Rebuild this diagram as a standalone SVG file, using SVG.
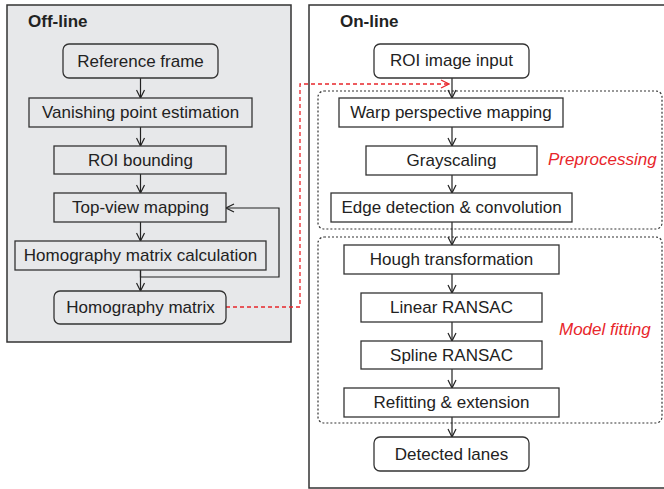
<svg xmlns="http://www.w3.org/2000/svg" width="664" height="489" viewBox="0 0 664 489">
<defs>
<style>
.t{font-family:"Liberation Sans",Arial,sans-serif;font-size:17px;fill:#222;text-anchor:middle}
.h{font-family:"Liberation Sans",Arial,sans-serif;font-size:17px;font-weight:bold;fill:#222}
.r{font-family:"Liberation Sans",Arial,sans-serif;font-size:17px;font-style:italic;fill:#e8262b}
.b{fill:#fff;stroke:#333;stroke-width:1.3}
.bg{fill:#e7e8ea;stroke:#333;stroke-width:1.3}
.c{fill:none;stroke:#222;stroke-width:1.2;marker-end:url(#ah)}
.d{fill:none;stroke:#333;stroke-width:1.2;stroke-dasharray:2 2}
</style>
<marker id="ah" viewBox="0 0 10 10" refX="9" refY="5" markerWidth="10" markerHeight="10" markerUnits="userSpaceOnUse" orient="auto">
<polyline points="1,1 9,5 1,9" fill="none" stroke="#222" stroke-width="1.2"/>
</marker>
<marker id="ar" viewBox="0 0 10 10" refX="9" refY="5" markerWidth="10" markerHeight="10" markerUnits="userSpaceOnUse" orient="auto">
<polyline points="1,1 9,5 1,9" fill="none" stroke="#e8262b" stroke-width="1.2"/>
</marker>
</defs>
<g id="offline-panel">
<rect x="7" y="5" width="284" height="337" fill="#e7e8ea" stroke="#333" stroke-width="1.5"/>
<text class="h" x="28" y="27">Off-line</text>
</g>
<g id="online-panel">
<rect x="309" y="5" width="370" height="483" fill="#fff" stroke="#333" stroke-width="1.5"/>
<text class="h" x="340" y="27">On-line</text>
</g>
<g id="preprocessing-group">
<rect class="d" x="318" y="91" width="344" height="138" rx="6"/>
<text class="r" x="548" y="165">Preprocessing</text>
</g>
<g id="modelfitting-group">
<rect class="d" x="318" y="237" width="344" height="186" rx="6"/>
<text class="r" x="559" y="335">Model fitting</text>
</g>
<g id="connectors">
<path class="c" d="M140.5 78V98"/>
<path class="c" d="M140.5 127V146"/>
<path class="c" d="M140.5 174V193"/>
<path class="c" d="M140.5 222V241"/>
<path class="c" d="M140.5 270V291"/>
<path class="c" d="M140.5 270V277H279V208H226"/>
<path d="M226 307H300V84H449" fill="none" stroke="#e8262b" stroke-width="1.3" stroke-dasharray="4 3" marker-end="url(#ar)"/>
<path class="c" d="M452 78V98"/>
<path class="c" d="M452 127V146"/>
<path class="c" d="M452 175V193"/>
<path class="c" d="M452 222V245"/>
<path class="c" d="M452 274V293"/>
<path class="c" d="M452 322V341"/>
<path class="c" d="M452 369V388"/>
<path class="c" d="M452 417V437"/>
</g>
<g id="reference-frame"><rect class="bg" x="63" y="44" width="155" height="34" rx="6"/><text class="t" x="140.5" y="67">Reference frame</text></g>
<g id="vanishing-point"><rect class="bg" x="29" y="98" width="223" height="29"/><text class="t" x="140.5" y="118">Vanishing point estimation</text></g>
<g id="roi-bounding"><rect class="bg" x="54" y="146" width="172" height="28"/><text class="t" x="140.5" y="166">ROI bounding</text></g>
<g id="top-view"><rect class="bg" x="54" y="193" width="172" height="29"/><text class="t" x="140.5" y="213">Top-view mapping</text></g>
<g id="homography-calc"><rect class="bg" x="15" y="241" width="251" height="29"/><text class="t" x="140.5" y="261">Homography matrix calculation</text></g>
<g id="homography-matrix"><rect class="bg" x="54" y="291" width="172" height="33" rx="6"/><text class="t" x="140.5" y="313">Homography matrix</text></g>
<g id="roi-input"><rect class="b" x="374" y="44" width="155" height="34" rx="6"/><text class="t" x="451.5" y="66">ROI image input</text></g>
<g id="warp"><rect class="b" x="339" y="98" width="224" height="29"/><text class="t" x="451" y="118">Warp perspective mapping</text></g>
<g id="grayscaling"><rect class="b" x="366" y="146" width="171" height="29"/><text class="t" x="451.5" y="166">Grayscaling</text></g>
<g id="edge"><rect class="b" x="331" y="193" width="241" height="29"/><text class="t" x="451.5" y="213">Edge detection &amp; convolution</text></g>
<g id="hough"><rect class="b" x="344" y="245" width="215" height="29"/><text class="t" x="451.5" y="265">Hough transformation</text></g>
<g id="linear-ransac"><rect class="b" x="361" y="293" width="181" height="29"/><text class="t" x="451.5" y="313">Linear RANSAC</text></g>
<g id="spline-ransac"><rect class="b" x="361" y="341" width="181" height="28"/><text class="t" x="451.5" y="361">Spline RANSAC</text></g>
<g id="refitting"><rect class="b" x="344" y="388" width="215" height="29"/><text class="t" x="451.5" y="408">Refitting &amp; extension</text></g>
<g id="detected-lanes"><rect class="b" x="374" y="437" width="155" height="34" rx="6"/><text class="t" x="451.5" y="460">Detected lanes</text></g>
</svg>
